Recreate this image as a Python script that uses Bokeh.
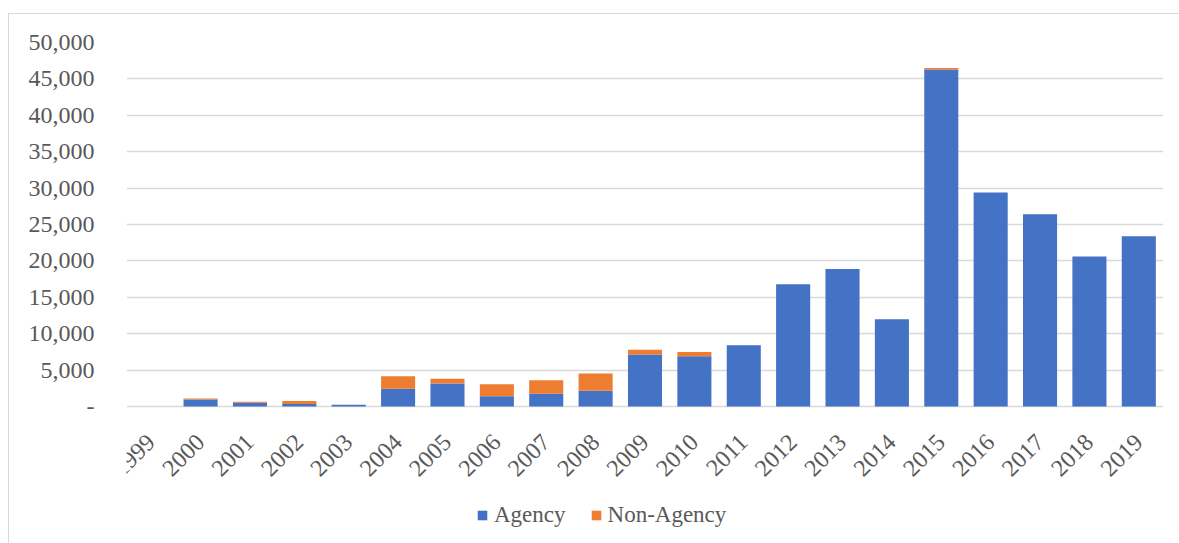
from bokeh.plotting import figure
from bokeh.models import ColumnDataSource, Legend, LegendItem, FixedTicker, CustomJSTickFormatter, Range1d, FactorRange
from bokeh.core.properties import value
from bokeh.embed import file_html
from bokeh.resources import INLINE
import math

years = [str(y) for y in range(1999, 2020)]
agency = [0, 950, 500, 350, 250, 2450, 3150, 1400, 1750, 2150, 7150, 6900,
          8400, 16800, 18900, 12000, 46300, 29400, 26400, 20600, 23400]
non_agency = [0, 150, 150, 400, 0, 1700, 650, 1650, 1850, 2400, 650, 600,
              0, 0, 0, 0, 200, 0, 0, 0, 0]
y_ticks = list(range(0, 50001, 5000))

FONT = "Liberation Serif"
TXT = "#595959"
GRID = "#d9d9d9"

# layout geometry (pixels)
Y_MAX = 50000
PLOT_PX = 364            # pixels from 0 to 50,000
EXTRA_PX = 135           # space below the zero line for year labels and legend
FRAME_H = PLOT_PX + EXTRA_PX
units_per_px = Y_MAX / PLOT_PX
y_min = -EXTRA_PX * units_per_px
label_y = -32 * units_per_px

src = ColumnDataSource(dict(year=years, Agency=agency, NonAgency=non_agency))
lab_src = ColumnDataSource(dict(year=years, ly=[label_y] * len(years)))

p = figure(x_range=FactorRange(*years, range_padding=0), y_range=Range1d(y_min, Y_MAX),
           frame_width=1037, frame_height=FRAME_H, output_backend="svg", toolbar_location=None,
           min_border_left=117, min_border_right=17, min_border_top=28, min_border_bottom=2)
p.styles = {"border-top": "1px solid #d9d9d9", "border-left": "1px solid #d9d9d9",
            "margin-top": "13px", "margin-left": "8px"}
p.outline_line_color = None
p.background_fill_color = "white"
p.border_fill_color = "white"

r = p.vbar_stack(["Agency", "NonAgency"], x="year", width=0.69, source=src,
                 color=["#4472C4", "#ED7D31"], line_color=None)

# year tick labels, rotated 45 degrees under each category
p.text(x="year", y="ly", text="year", source=lab_src, angle=math.pi / 4,
       text_align="right", text_baseline="middle", text_font=value(FONT),
       text_font_size="24px", text_color=TXT)

p.xaxis.visible = False
p.xgrid.grid_line_color = None
p.ygrid.ticker = FixedTicker(ticks=y_ticks)
p.ygrid.grid_line_color = GRID
p.ygrid.grid_line_width = 1.3
p.yaxis.ticker = FixedTicker(ticks=y_ticks)
p.yaxis.formatter = CustomJSTickFormatter(code="return tick == 0 ? '-' : tick.toLocaleString('en-US');")
p.yaxis.axis_line_color = None
p.yaxis.major_tick_line_color = None
p.yaxis.minor_tick_line_color = None
p.yaxis.major_label_standoff = 26
p.yaxis.major_label_text_font = FONT
p.yaxis.major_label_text_font_size = "24px"
p.yaxis.major_label_text_color = TXT

legend = Legend(items=[LegendItem(label="Agency", renderers=[r[0]]),
                       LegendItem(label="Non-Agency", renderers=[r[1]])],
                orientation="horizontal", location=(350, 13))
legend.glyph_width = 12
legend.glyph_height = 12
legend.label_text_font = FONT
legend.label_text_font_size = "23px"
legend.label_text_color = TXT
legend.border_line_color = None
legend.background_fill_alpha = 0
legend.spacing = 24
legend.label_standoff = 6
legend.margin = 0
legend.padding = 0
p.add_layout(legend, "center")

open("out.html", "w").write(file_html(p, INLINE))
